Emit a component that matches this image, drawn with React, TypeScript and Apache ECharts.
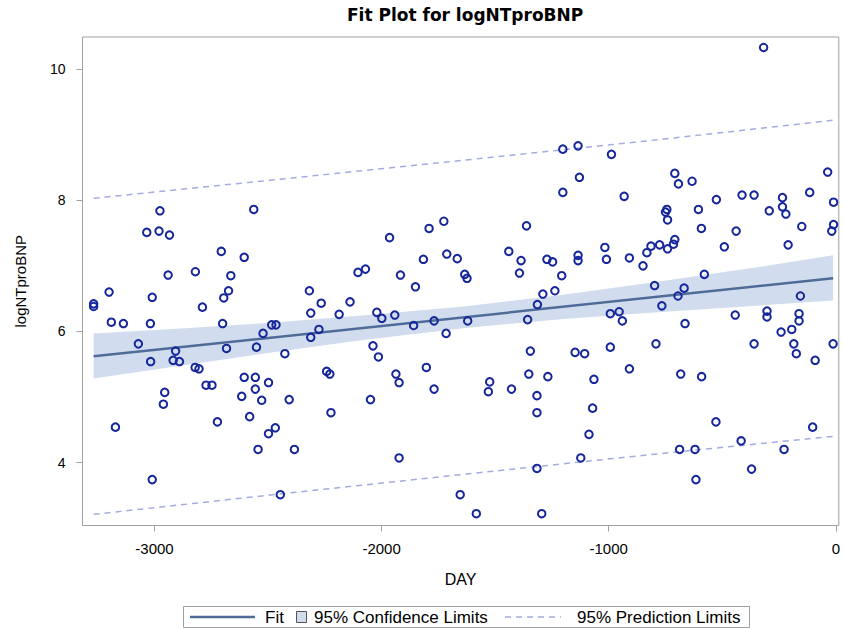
import React, { useEffect, useRef } from "react";
import * as echarts from "echarts";

const days: number[] = [
  -2976, -2563, -3034, -2980, -2934, -2706, -2605, -2940, -2820, -2664,
  -3200, -3268, -3268, -3010, -2674, -2695, -2789, -3190, -3137, -3018,
  -2700, -2484, -2465, -2522, -3071, -2907, -2683, -2551, -3017, -2918,
  -2890, -2821, -2804, -2605, -2556, -2773, -2747, -2498, -2556, -2955,
  -2616, -2528, -2961, -2581, -2723, -3172, -2468, -2498, -2544, -3010,
  -2446, -1965, -1791, -1726, -1816, -1713, -1667, -2104, -2071, -1917,
  -1634, -1624, -1851, -2318, -2266, -2139, -2312, -2187, -2021, -1999,
  -1942, -2276, -2312, -1859, -1769, -1716, -1621, -2426, -2038, -2014,
  -2242, -2228, -1937, -1923, -1803, -1769, -2407, -2049, -2223, -2384,
  -1923, -1654, -1202, -1135, -988, -1129, -1202, -932, -1362, -1440,
  -1386, -1017, -1272, -1247, -1135, -1135, -1010, -909, -832, -814,
  -776, -741, -715, -709, -849, -1393, -1207, -1237, -1290, -1314,
  -1357, -993, -954, -940, -798, -1345, -1148, -1106, -993, -792,
  -909, -1524, -1530, -1428, -1352, -1268, -1065, -1316, -1316, -1071,
  -1087, -1123, -1316, -1583, -1295, -318, -709, -693, -633, -36,
  -526, -413, -360, -235, -235, -220, -293, -115, -10, -750,
  -744, -741, -605, -592, -439, -150, -10, -18, -210, -491,
  -579, -668, -695, -766, -156, -443, -303, -303, -162, -162,
  -664, -241, -194, -360, -185, -174, -91, -12, -683, -591,
  -528, -102, -417, -688, -620, -228, -371, -616,
];
const logNT: number[] = [
  7.84, 7.86, 7.51, 7.53, 7.47, 7.22, 7.13, 6.86, 6.91, 6.85,
  6.6, 6.42, 6.38, 6.52, 6.62, 6.51, 6.37, 6.14, 6.12, 6.12,
  6.12, 6.1, 6.1, 5.97, 5.81, 5.7, 5.74, 5.76, 5.54, 5.56,
  5.54, 5.45, 5.43, 5.3, 5.3, 5.18, 5.18, 5.22, 5.12, 5.07,
  5.01, 4.95, 4.89, 4.7, 4.62, 4.54, 4.53, 4.44, 4.2, 3.74,
  3.51, 7.43, 7.57, 7.68, 7.1, 7.18, 7.11, 6.9, 6.95, 6.86,
  6.87, 6.81, 6.68, 6.62, 6.43, 6.45, 6.28, 6.26, 6.29, 6.2,
  6.25, 6.03, 5.91, 6.09, 6.16, 5.97, 6.16, 5.66, 5.78, 5.61,
  5.39, 5.35, 5.35, 5.22, 5.45, 5.12, 4.96, 4.96, 4.76, 4.2,
  4.07, 3.51, 8.78, 8.83, 8.7, 8.35, 8.12, 8.06, 7.61, 7.22,
  7.08, 7.28, 7.1, 7.06, 7.16, 7.08, 7.1, 7.12, 7.2, 7.3,
  7.32, 7.26, 7.33, 7.4, 7.0, 6.89, 6.85, 6.62, 6.57, 6.41,
  6.18, 6.27, 6.3, 6.16, 6.7, 5.7, 5.68, 5.66, 5.76, 5.81,
  5.43, 5.23, 5.08, 5.12, 5.35, 5.31, 5.27, 5.02, 4.76, 4.83,
  4.43, 4.07, 3.91, 3.22, 3.22, 10.33, 8.41, 8.25, 8.29, 8.43,
  8.01, 8.08, 8.08, 8.04, 7.9, 7.79, 7.84, 8.12, 7.97, 7.82,
  7.86, 7.7, 7.86, 7.57, 7.53, 7.6, 7.63, 7.53, 7.32, 7.29,
  6.87, 6.66, 6.54, 6.39, 6.54, 6.25, 6.31, 6.22, 6.27, 6.16,
  6.12, 5.99, 6.03, 5.81, 5.81, 5.66, 5.56, 5.81, 5.35, 5.31,
  4.62, 4.54, 4.33, 4.2, 4.2, 4.2, 3.9, 3.74,
];

// Fit line
const fitDays: number[] = [-3268, -12];
const fitValues: number[] = [5.62, 6.81];

// 95% confidence band
const bandDays: number[] = [-3268, -2900, -2500, -2100, -1640, -1200, -800, -400, -12];
const bandLower: number[] = [5.28, 5.47, 5.67, 5.86, 6.05, 6.19, 6.29, 6.38, 6.47];
const bandUpper: number[] = [5.97, 6.04, 6.13, 6.24, 6.38, 6.56, 6.75, 6.95, 7.16];

// 95% prediction limits
const predDays: number[] = [-3268, -2450, -1640, -820, -12];
const predLower: number[] = [3.21, 3.52, 3.82, 4.12, 4.4];
const predUpper: number[] = [8.03, 8.32, 8.61, 8.91, 9.22];

// Axis ticks
const xTicks: number[] = [-3000, -2000, -1000, 0];
const yTicks: number[] = [4, 6, 8, 10];

const FIT_COLOR = "#4f6b98";
const BAND_COLOR = "#d1ddee";
const PRED_COLOR = "#a4abe0";
const POINT_COLOR = "#15259a";
const FRAME = "#a0a0a0";
const SANS = '"Liberation Sans", Arial, sans-serif';

export default function App() {
  const ref = useRef<HTMLDivElement>(null);

  useEffect(() => {
    if (!ref.current) return;
    const chart = echarts.init(ref.current, undefined, { renderer: "svg" });

    const scatterData = days.map((d, i) => [d, logNT[i]]);
    const fitData = fitDays.map((d, i) => [d, fitValues[i]]);
    const predLo = predDays.map((d, i) => [d, predLower[i]]);
    const predHi = predDays.map((d, i) => [d, predUpper[i]]);

    const legendY = 617;

    chart.setOption({
      animation: false,
      backgroundColor: "#fff",
      title: {
        text: "Fit Plot for logNTproBNP",
        left: 347,
        top: 6,
        padding: 0,
        textStyle: {
          fontFamily: '"DejaVu Sans", sans-serif',
          fontWeight: "bold",
          fontSize: 17,
          color: "#000",
        },
      },
      grid: {
        left: 82.5,
        top: 37,
        right: 0,
        bottom: 103.5,
        show: true,
        borderColor: FRAME,
        borderWidth: 1,
        backgroundColor: "transparent",
      },
      xAxis: {
        type: "value",
        position: "bottom",
        min: -3317,
        max: 13,
        name: "DAY",
        nameLocation: "middle",
        nameGap: 46,
        nameTextStyle: { fontFamily: SANS, fontSize: 16, color: "#000" },
        axisLine: { show: false, onZero: false },
        splitLine: { show: false },
        axisTick: {
          show: true,
          length: 6,
          customValues: xTicks,
          lineStyle: { color: FRAME },
        },
        axisLabel: {
          customValues: xTicks,
          margin: 15,
          fontFamily: SANS,
          fontSize: 15,
          color: "#000",
          formatter: (v: number) => String(v),
        },
      },
      yAxis: {
        type: "value",
        position: "left",
        min: 3.04,
        max: 10.49,
        name: "logNTproBNP",
        nameLocation: "middle",
        nameGap: 55,
        nameTextStyle: { fontFamily: SANS, fontSize: 15, color: "#000" },
        axisLine: { show: false, onZero: false },
        splitLine: { show: false },
        axisTick: {
          show: true,
          length: 6,
          customValues: yTicks,
          lineStyle: { color: FRAME },
        },
        axisLabel: {
          customValues: yTicks,
          margin: 17,
          fontFamily: SANS,
          fontSize: 14,
          color: "#000",
          formatter: (v: number) => String(v),
        },
      },
      series: [
        {
          type: "custom",
          name: "95% Confidence Limits",
          coordinateSystem: "cartesian2d",
          silent: true,
          z: 1,
          data: [[bandDays[0], bandLower[0]]],
          renderItem: (_params: any, api: any) => {
            const pts: number[][] = [];
            bandDays.forEach((d, i) => pts.push(api.coord([d, bandUpper[i]])));
            for (let i = bandDays.length - 1; i >= 0; i--) {
              pts.push(api.coord([bandDays[i], bandLower[i]]));
            }
            return {
              type: "polygon",
              shape: { points: pts },
              style: { fill: BAND_COLOR, stroke: "none" },
            };
          },
        },
        {
          type: "line",
          name: "95% Prediction Limits",
          data: predHi,
          showSymbol: false,
          symbol: "none",
          z: 2,
          lineStyle: { color: PRED_COLOR, width: 1.5, type: [6, 5] },
        },
        {
          type: "line",
          name: "95% Prediction Limits lower",
          data: predLo,
          showSymbol: false,
          symbol: "none",
          z: 2,
          lineStyle: { color: PRED_COLOR, width: 1.5, type: [6, 5] },
        },
        {
          type: "line",
          name: "Fit",
          data: fitData,
          showSymbol: false,
          symbol: "none",
          z: 3,
          lineStyle: { color: FIT_COLOR, width: 2.5 },
        },
        {
          type: "scatter",
          name: "logNTproBNP",
          data: scatterData,
          symbol: "circle",
          symbolSize: 7.5,
          z: 4,
          itemStyle: {
            color: "rgba(255,255,255,0)",
            borderColor: POINT_COLOR,
            borderWidth: 2,
            opacity: 1,
          },
        },
      ],
      graphic: [
        {
          type: "rect",
          shape: { x: 183.5, y: 606.5, width: 566, height: 21 },
          style: { fill: "#fff", stroke: FRAME, lineWidth: 1 },
          silent: true,
        },
        {
          type: "line",
          shape: { x1: 190, y1: legendY, x2: 255, y2: legendY },
          style: { stroke: FIT_COLOR, lineWidth: 2.5 },
          silent: true,
        },
        {
          type: "text",
          x: 265,
          y: legendY,
          style: { text: "Fit", font: `17px ${SANS}`, fill: "#000", verticalAlign: "middle", align: "left" },
          silent: true,
        },
        {
          type: "rect",
          shape: { x: 296.5, y: 611.5, width: 10, height: 11 },
          style: { fill: BAND_COLOR, stroke: "#555", lineWidth: 1 },
          silent: true,
        },
        {
          type: "text",
          x: 314,
          y: legendY,
          style: {
            text: "95% Confidence Limits",
            font: `17px ${SANS}`,
            fill: "#000",
            verticalAlign: "middle",
            align: "left",
          },
          silent: true,
        },
        {
          type: "line",
          shape: { x1: 505, y1: legendY, x2: 561, y2: legendY },
          style: { stroke: PRED_COLOR, lineWidth: 1.5, lineDash: [6, 5] },
          silent: true,
        },
        {
          type: "text",
          x: 577,
          y: legendY,
          style: {
            text: "95% Prediction Limits",
            font: `17px ${SANS}`,
            fill: "#000",
            verticalAlign: "middle",
            align: "left",
          },
          silent: true,
        },
      ],
    });

    return () => chart.dispose();
  }, []);

  return (
    <div
      ref={ref}
      style={{ position: "fixed", left: 0, top: 0, width: 843, height: 629, background: "#fff" }}
    />
  );
}
